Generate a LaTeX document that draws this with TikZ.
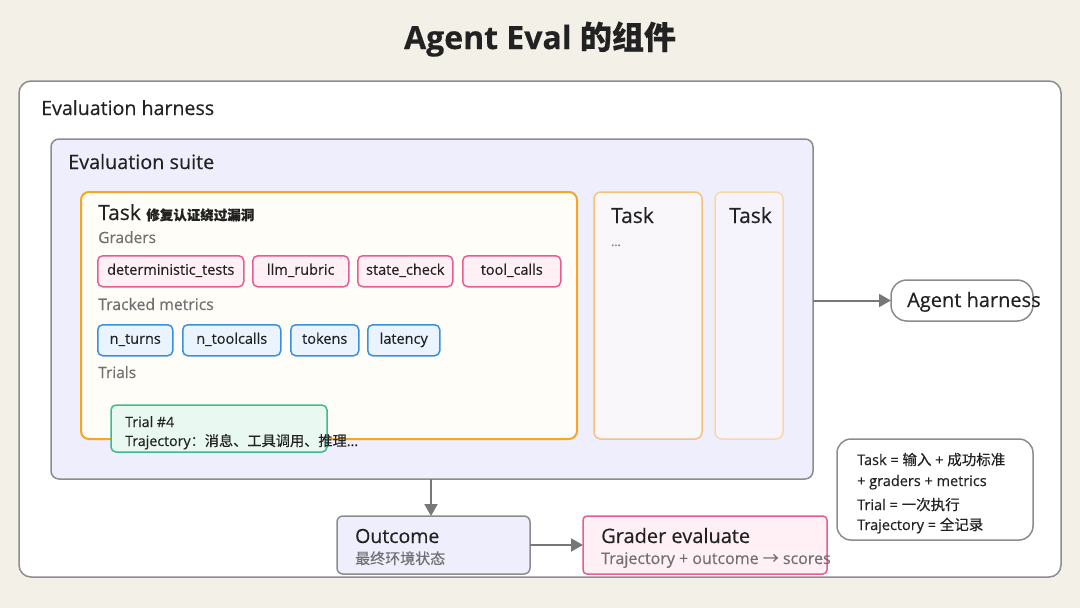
\documentclass[tikz,border=0pt]{standalone}
\usepackage{fontspec}
\setmainfont{Open Sans}[FakeBold=0.35]
\newfontfamily\cjk{Noto Sans CJK SC}[FakeBold=0.35]
\usetikzlibrary{arrows.meta}
\definecolor{bg}{HTML}{F3F0E8}
\definecolor{frame}{HTML}{8C8C8C}
\definecolor{suitefill}{HTML}{EFEEFC}
\definecolor{taskfill}{HTML}{FFFDF8}
\definecolor{taskline}{HTML}{F5A623}
\definecolor{tasktwofill}{HTML}{FAF7FB}
\definecolor{tasktwoline}{HTML}{F6C27A}
\definecolor{taskthreefill}{HTML}{F5F3FC}
\definecolor{taskthreeline}{HTML}{F8D7A8}
\definecolor{pinkline}{HTML}{E85C8F}
\definecolor{pinkfill}{HTML}{FFF0F5}
\definecolor{blueline}{HTML}{3B8FE0}
\definecolor{bluefill}{HTML}{EAF4FF}
\definecolor{greenline}{HTML}{3DBB8C}
\definecolor{greenfill}{HTML}{E9F8F1}
\definecolor{txt}{HTML}{222222}
\definecolor{subtxt}{HTML}{707070}
\definecolor{arrowc}{HTML}{777777}
\tikzset{
  box/.style={draw, anchor=north west, inner sep=0pt, outer sep=0pt},
  lbl/.style={anchor=base west, inner sep=0pt, text=txt},
  chip/.style={draw, anchor=north west, inner sep=0pt, rounded corners=5pt, line width=1.5pt, minimum height=31pt, text height=10pt, text depth=3pt, font=\fontsize{14.5}{16}\selectfont, text=txt},
  grader/.style={chip, draw=pinkline, fill=pinkfill},
  metric/.style={chip, draw=blueline, fill=bluefill},
  flow/.style={draw=arrowc, line width=2pt, -{Triangle[length=12pt,width=13pt]}},
}
\begin{document}
\begin{tikzpicture}[x=1pt,y=-1pt]
\fill[bg] (0,0) rectangle (1080,608);
\useasboundingbox (0,0) rectangle (1080,608);
% title
\node[anchor=base, inner sep=0pt, text=txt] (title) at (540,49) {\fontsize{32}{36}\selectfont\bfseries Agent Eval {\cjk\bfseries 的组件}};
% harness
\node[box, draw=frame, fill=white, line width=1.5pt, rounded corners=12pt, minimum width=1042pt, minimum height=496pt] (harness) at (19,81) {};
\node[lbl] (harnesslbl) at (41,115) {\fontsize{19.6}{22}\selectfont Evaluation harness};
% suite
\node[box, draw=frame, fill=suitefill, line width=1.5pt, rounded corners=8pt, minimum width=762pt, minimum height=340pt] (suite) at (51,139) {};
\node[lbl] (suitelbl) at (68,169) {\fontsize{19.8}{22}\selectfont Evaluation suite};
% task 1
\node[box, draw=taskline, fill=taskfill, line width=2pt, rounded corners=8pt, minimum width=496pt, minimum height=247pt] (task) at (81,192) {};
\node[lbl] (tasklbl) at (98,220) {\fontsize{21}{23}\selectfont Task \fontsize{13.5}{15}\selectfont\cjk\bfseries 修复认证绕过漏洞};
\node[lbl, text=subtxt] (graderslbl) at (98,243) {\fontsize{15.5}{17}\selectfont Graders};
\node[grader, minimum width=146pt] (g1) at (97,255) {deterministic\_tests};
\node[grader, minimum width=96pt] (g2) at (252,255) {llm\_rubric};
\node[grader, minimum width=95pt] (g3) at (357,255) {state\_check};
\node[grader, minimum width=98pt] (g4) at (462,255) {tool\_calls};
\node[lbl, text=subtxt] (metricslbl) at (98,310) {\fontsize{15.8}{17}\selectfont Tracked metrics};
\node[metric, minimum width=75pt] (m1) at (97,324) {n\_turns};
\node[metric, minimum width=98pt] (m2) at (182,324) {n\_toolcalls};
\node[metric, minimum width=68pt] (m3) at (290,324) {tokens};
\node[metric, minimum width=72pt] (m4) at (367,324) {latency};
\node[lbl, text=subtxt] (trialslbl) at (98,378) {\fontsize{15.5}{17}\selectfont Trials};
\node[box, draw=greenline, fill=greenfill, line width=1.5pt, rounded corners=5pt, minimum width=216pt, minimum height=47pt] (trial) at (111,405) {};
\node[lbl] (triallbl) at (125,427) {\fontsize{14.2}{16}\selectfont Trial \#4};
\node[lbl] (trajlbl) at (125,446) {\fontsize{14.2}{16}\selectfont Trajectory{\cjk ：消息、工具调用、推理}...};
% task 2, 3
\node[box, draw=tasktwoline, fill=tasktwofill, line width=1.5pt, rounded corners=7pt, minimum width=108pt, minimum height=247pt] (task2) at (594,192) {};
\node[lbl] (task2lbl) at (611,223) {\fontsize{21}{23}\selectfont Task};
\node[lbl, text=subtxt] (task2dots) at (611,246) {\fontsize{12}{13}\selectfont ...};
\node[box, draw=taskthreeline, fill=taskthreefill, line width=1.5pt, rounded corners=7pt, minimum width=68pt, minimum height=247pt] (task3) at (715,192) {};
\node[lbl] (task3lbl) at (729,223) {\fontsize{21}{23}\selectfont Task};
% agent harness
\node[box, draw=frame, fill=white, line width=1.5pt, rounded corners=16pt, minimum width=142pt, minimum height=41pt] (agent) at (891,280) {};
\node[lbl] (agentlbl) at (907,307) {\fontsize{20}{22}\selectfont Agent harness};
\draw[flow] (suite.east |- agent.west) -- (agent.west);
% outcome
\node[box, draw=frame, fill=suitefill, line width=1.5pt, rounded corners=6pt, minimum width=193pt, minimum height=58pt] (outcome) at (337,516) {};
\node[lbl] (outcomelbl) at (355,543) {\fontsize{19.5}{21}\selectfont Outcome};
\node[lbl, text=subtxt] (outcomesub) at (355,564) {\fontsize{15}{17}\selectfont\cjk 最终环境状态};
\draw[flow] (431,479) coordinate (suitebottom) -- (431,516) coordinate (outcometop);
% grader
\node[box, draw=pinkline, fill=pinkfill, line width=1.5pt, rounded corners=4pt, minimum width=244pt, minimum height=58pt] (grader) at (583,516) {};
\node[lbl] (graderlbl) at (601,543) {\fontsize{20}{22}\selectfont Grader evaluate};
\node[lbl, text=subtxt] (gradersub) at (601,564) {\fontsize{16}{18}\selectfont Trajectory + outcome {\cjk →} scores};
\draw[flow] (outcome.east |- grader.west) -- (grader.west);
% legend
\node[box, draw=frame, fill=white, line width=1.5pt, rounded corners=14pt, minimum width=196pt, minimum height=101pt] (legend) at (837,439) {};
\node[lbl] (leg1) at (857,465) {\fontsize{14.5}{16}\selectfont Task = {\cjk 输入} + {\cjk 成功标准}};
\node[lbl] (leg2) at (857,486) {\fontsize{14.5}{16}\selectfont + graders + metrics};
\node[lbl] (leg3) at (857,510) {\fontsize{14.5}{16}\selectfont Trial = {\cjk 一次执行}};
\node[lbl] (leg4) at (857,530) {\fontsize{14.5}{16}\selectfont Trajectory = {\cjk 全记录}};
\end{tikzpicture}
\end{document}
